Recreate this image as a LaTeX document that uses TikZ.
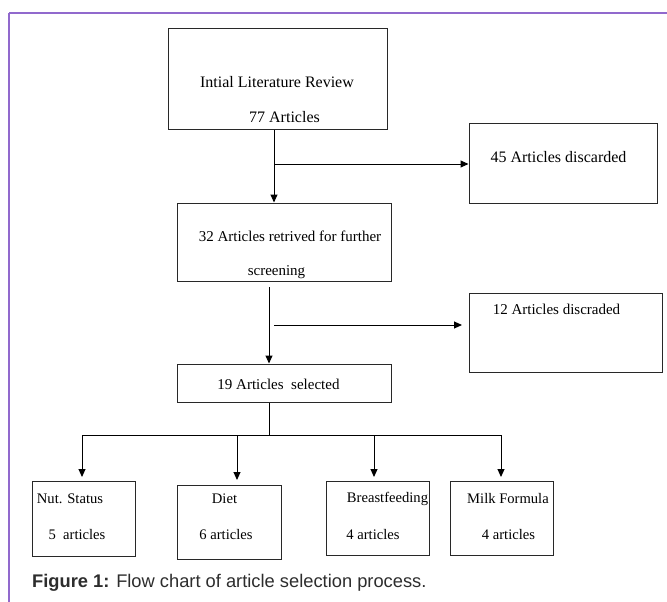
\documentclass[tikz,border=0pt]{standalone}
\usepackage{fontspec}
\setmainfont{Liberation Serif}
\newfontfamily\capfont{Liberation Sans}
\usetikzlibrary{arrows.meta}
\definecolor{framepurple}{RGB}{145,105,205}
\definecolor{boxline}{RGB}{40,40,40}
\definecolor{captext}{RGB}{45,45,45}
\tikzset{
  box/.style={draw=boxline, line width=1pt, rectangle, inner sep=0pt},
  txt/.style={inner sep=0pt, font=\fontsize{16}{19}\selectfont},
  txtm/.style={inner sep=0pt, font=\fontsize{15}{18}\selectfont},
  txts/.style={inner sep=0pt, font=\fontsize{14.6}{17}\selectfont},
  conn/.style={draw=black, line width=1pt},
  arr/.style={conn, -{Triangle[length=8pt,width=7pt]}}
}
\begin{document}
\begin{tikzpicture}[x=1pt,y=-1pt]
\useasboundingbox (0,0) rectangle (667,602);
% frame lines
\draw[framepurple, line width=1.6pt] (9,13) -- (667,13);
\draw[framepurple, line width=1.6pt] (9,13) -- (9,602);

% boxes
\node[box, minimum width=219pt, minimum height=100pt] (b1) at (277.5,79) {};
\node[box, minimum width=188pt, minimum height=80pt] (b45) at (563,163) {};
\node[box, minimum width=214pt, minimum height=78pt] (b32) at (284,242) {};
\node[box, minimum width=193pt, minimum height=79pt] (b12) at (565.5,332.5) {};
\node[box, minimum width=214pt, minimum height=38pt] (b19) at (284,383) {};
\node[box, minimum width=103pt, minimum height=75pt] (nut) at (83.5,518.5) {};
\node[box, minimum width=104pt, minimum height=74pt] (diet) at (229,522) {};
\node[box, minimum width=103pt, minimum height=74pt] (bf) at (377.5,518) {};
\node[box, minimum width=103pt, minimum height=74pt] (milk) at (501.5,518) {};

% texts
\node[txt] (t1a) at (277,82) {Intial Literature Review};
\node[txt] (t1b) at (284.5,117) {77 Articles};
\node[txt] (t45) at (558.5,157) {45 Articles discarded};
\node[txtm] (t32a) at (290,236) {32 Articles retrived for further};
\node[txtm] (t32b) at (276.5,272) {screening};
\node[txtm] (t12) at (556.5,309) {12 Articles discraded};
\node[txtm] (t19) at (278.5,384) {19 Articles\ \ selected};
\node[txts] (tnuta) at (70,499) {Nut. Status};
\node[txts] (tnutb) at (77,535) {5\ \ articles};
\node[txts] (tdieta) at (224.5,499) {Diet};
\node[txts] (tdietb) at (226,535) {6 articles};
\node[txts] (tbfa) at (387.5,499) {Breastfeeding};
\node[txts] (tbfb) at (373,535) {4 articles};
\node[txts] (tmilka) at (508,499) {Milk Formula};
\node[txts] (tmilkb) at (508.5,535) {4 articles};

% caption
\node[inner sep=0pt, anchor=west, text=captext, font=\capfont\fontsize{18.3}{21}\selectfont] (cap) at (32,583) {\textbf{Figure 1:} Flow chart of article selection process.};

% connector coordinates
\coordinate (j1) at (274,164);
\coordinate (a45) at (469,164);
\coordinate (s2) at (269,287);
\coordinate (e2) at (269,364);
\coordinate (j2) at (274,325);
\coordinate (a12) at (462,325);
\coordinate (s3) at (269,402);
\coordinate (j3) at (269,435);
\coordinate (hl) at (82,435);
\coordinate (hr) at (501,435);
\coordinate (d2) at (237,435);
\coordinate (d3) at (374,435);
\coordinate (tn) at (82,477);
\coordinate (td) at (237,480);
\coordinate (tb) at (374,477);
\coordinate (tm) at (501,477);

% connectors
\draw[arr] (b1.south -| j1) -- (b32.north -| j1);
\draw[arr] (j1) -- (b45.west |- j1);
\draw[arr] (s2) -- (b19.north -| e2);
\draw[arr] (j2) -- (a12);
\draw[conn] (b19.south -| s3) -- (j3);
\draw[conn] (hl) -- (hr);
\draw[arr] (hl) -- (tn);
\draw[arr] (d2) -- (td);
\draw[arr] (d3) -- (tb);
\draw[arr] (hr) -- (tm);
\end{tikzpicture}
\end{document}
